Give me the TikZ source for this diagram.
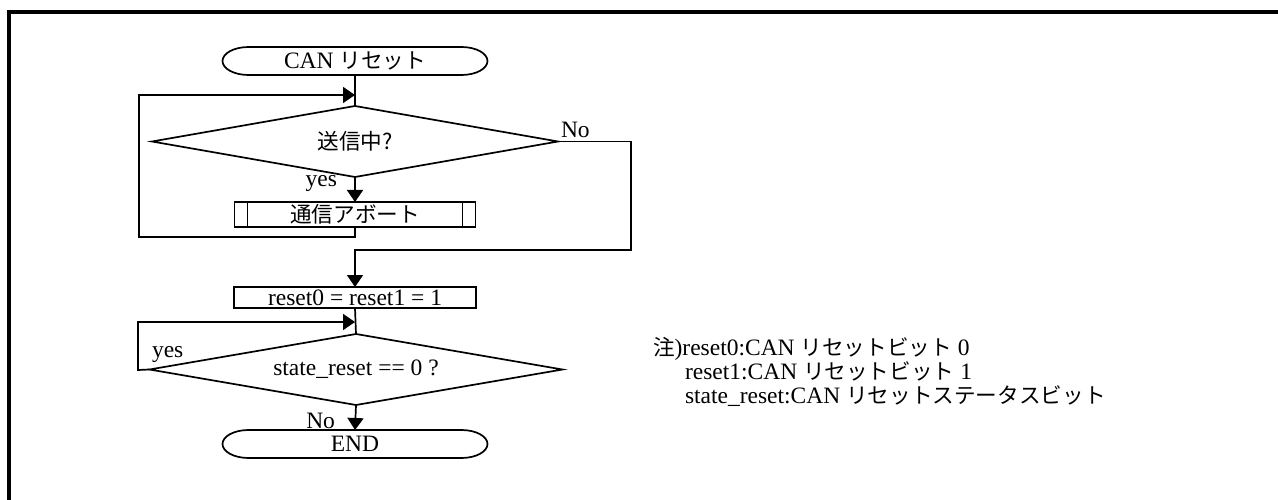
\documentclass[tikz,border=0pt]{standalone}
\usepackage{fontspec}
\setmainfont{Liberation Serif}
\newfontfamily\jp[Scale=0.92]{Noto Sans CJK JP}
\usetikzlibrary{arrows.meta}
\tikzset{
  base/.style={inner sep=0pt,outer sep=0pt,font=\fontsize{23.5}{26}\selectfont},
  term/.style={base,draw=none,minimum width=265pt,minimum height=28pt},
  dia/.style={base,draw=none,rectangle},
  box/.style={base,draw,line width=1.7pt,rectangle},
  lbl/.style={base},
  flow/.style={line width=1.7pt},
  arr/.style={flow,-{Triangle[length=12pt,width=16pt]}},
}
\newcommand\termoutline[1]{%
  \draw[flow] ([xshift=26pt]#1.north west) -- ([xshift=-26pt]#1.north east)
    arc[start angle=90,end angle=-90,x radius=26pt,y radius=14pt]
    -- ([xshift=26pt]#1.south west)
    arc[start angle=270,end angle=90,x radius=26pt,y radius=14pt] -- cycle;}
\newcommand\diaoutline[1]{%
  \draw[flow,line join=miter] (#1.north) -- (#1.east) -- (#1.south) -- (#1.west) -- cycle;}
\begin{document}
\begin{tikzpicture}[x=1pt,y=-1pt]
\useasboundingbox (0,0) rectangle (1278,500);
% frame
\draw[line width=4pt] (8.5,510) -- (8.5,12.5) -- (1290,12.5);

% nodes
\node[term] (start) at (355,61) {CAN {\jp リセット}};
\termoutline{start}
\node[dia,minimum width=406pt,minimum height=71pt] (d1) at (355,141.5) {{\jp 送信中?}};
\diaoutline{d1}
\node[box,minimum width=241pt,minimum height=25pt] (abort) at (355,214.5) {{\jp 通信アボート}};
\draw[flow] ([xshift=13pt]abort.north west) -- ([xshift=13pt]abort.south west);
\draw[flow] ([xshift=-13pt]abort.north east) -- ([xshift=-13pt]abort.south east);
\node[box,minimum width=242pt,minimum height=21pt] (reset) at (355,297.5) {reset0 = reset1 = 1};
\node[dia,minimum width=413pt,minimum height=71pt] (d2) at (356,369.5) {state\_reset == 0 ?};
\diaoutline{d2}
\node[term] (end) at (355,444) {END};
\termoutline{end}

% labels
\node[lbl,anchor=base east] (yes1) at (337,186) {yes};
\node[lbl,anchor=base west] (no1) at (561,138) {No};
\node[lbl,anchor=base west] (yes2) at (152,357) {yes};
\node[lbl,anchor=base east] (no2) at (335,428) {No};

% coordinates
\coordinate (j1) at (355,95);
\coordinate (l1) at (139,237);
\coordinate (r1) at (631,250);
\coordinate (j2) at (355,322);
\coordinate (l2) at (138,370);

% connectors
\draw[flow] (start.south) -- (d1.north);
\draw[arr] (abort.south) -- (abort.south |- l1) -- (l1) |- (j1);
\draw[arr] (d1.south) -- (abort.north);
\draw[arr] (d1.east) -| (r1) -- (r1 -| reset.north) -- (reset.north);
\draw[flow] (reset.south) -- (d2.north);
\draw[arr] (d2.west) -- (l2) |- (j2);
\draw[arr] (d2.south) -- (end.north);

% notes
\node[lbl,anchor=base west] (note1) at (653,355) {{\jp 注}){}reset0:CAN {\jp リセットビット} 0};
\node[lbl,anchor=base west] (note2) at (685,379) {reset1:CAN {\jp リセットビット} 1};
\node[lbl,anchor=base west] (note3) at (685,403) {state\_reset:CAN {\jp リセットステータスビット}};
\end{tikzpicture}
\end{document}
